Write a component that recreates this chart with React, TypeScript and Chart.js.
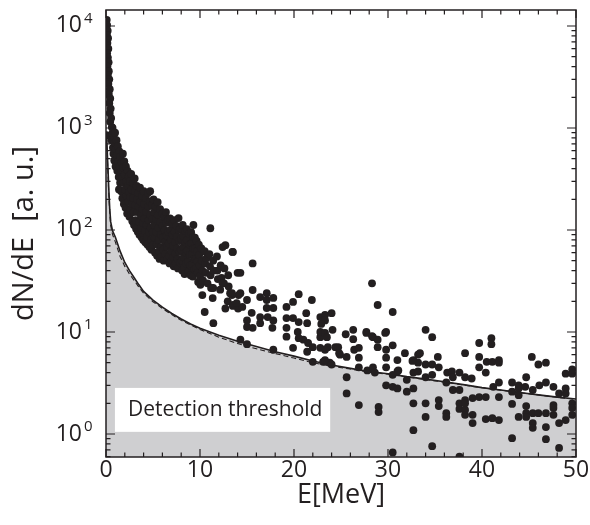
import React, { useEffect, useRef } from 'react';
import { Chart, registerables } from 'chart.js';

Chart.register(...registerables);

// ---------- data ----------
const xTickValues = [0, 10, 20, 30, 40, 50];
const yTickExponents = [0, 1, 2, 3, 4];
const xLabel = 'E[MeV]';
const yLabel = 'dN/dE  [a. u.]';
const legendText = 'Detection threshold';

// steep stack of points near E = 0
const stackPoints: [number, number][] = [
  [0.08, 11500], [0.12, 10200], [0.18, 9000], [0.1, 8200], [0.22, 7600], [0.15, 6800],
  [0.25, 6000], [0.12, 5400], [0.2, 4900], [0.28, 4400], [0.15, 4000], [0.3, 3600],
  [0.2, 3300], [0.35, 3000], [0.25, 2700], [0.4, 2400], [0.3, 2150], [0.45, 1950],
  [0.35, 1750], [0.5, 1550], [0.4, 1400], [0.55, 1250], [0.45, 1150], [0.05, 850],
];

// dense band, E 0.55 .. 14
const bandPoints: [number, number][] = [
  [0.62, 1020], [0.58, 760], [0.66, 880], [0.74, 640], [0.7, 1000], [0.83, 810], [0.79, 560],
  [0.92, 720], [0.88, 480], [0.97, 900], [1.05, 620], [1.02, 420], [1.12, 760], [1.15, 540],
  [1.2, 380], [1.26, 660], [1.31, 470], [1.35, 330], [1.42, 590], [1.46, 420], [1.5, 290], [1.38, 250],
  [1.55, 520], [1.58, 370], [1.62, 240], [1.67, 460], [1.72, 330], [1.74, 205], [1.8, 560],
  [1.83, 410], [1.86, 290], [1.9, 180], [1.95, 470], [2.0, 350], [2.03, 250], [2.08, 165],
  [2.12, 420], [2.16, 300], [2.2, 215], [2.25, 145], [2.3, 380], [2.34, 270], [2.38, 190],
  [2.42, 335], [2.47, 235], [2.5, 135], [2.55, 300], [2.6, 210], [2.62, 160], [2.68, 355],
  [2.72, 250], [2.76, 180], [2.8, 122], [2.86, 290], [2.9, 205], [2.94, 150], [2.98, 112],
  [3.05, 320], [3.08, 240], [3.12, 175], [3.16, 125], [3.2, 103], [3.26, 270], [3.3, 200],
  [3.34, 150], [3.38, 96], [3.44, 230], [3.48, 170], [3.52, 120], [3.56, 90], [3.62, 260],
  [3.66, 190], [3.7, 140], [3.74, 105], [3.78, 85], [3.84, 215], [3.88, 160], [3.92, 118],
  [3.96, 80], [4.02, 240], [4.06, 180], [4.1, 130], [4.14, 98], [4.18, 76], [4.24, 205],
  [4.28, 150], [4.32, 112], [4.36, 86], [4.4, 72], [4.46, 230], [4.5, 170], [4.54, 125],
  [4.58, 95], [4.62, 68], [4.7, 240], [4.66, 190], [4.72, 140], [4.76, 105], [4.8, 80],
  [4.84, 64], [4.9, 175], [4.94, 128], [4.98, 95], [5.02, 72],
  [5.06, 200], [5.1, 150], [5.14, 112], [5.18, 84], [5.22, 60], [5.28, 170], [5.32, 128],
  [5.36, 96], [5.4, 72], [5.44, 56], [5.5, 188], [5.54, 140], [5.58, 105], [5.62, 80],
  [5.66, 62], [5.7, 52], [5.76, 160], [5.8, 120], [5.84, 90], [5.88, 68], [5.92, 55],
  [5.98, 145], [6.02, 110], [6.06, 84], [6.1, 64], [6.14, 50], [6.2, 135], [6.24, 100],
  [6.28, 76], [6.32, 58], [6.38, 150], [6.42, 118], [6.46, 88], [6.5, 68], [6.54, 52],
  [6.6, 125], [6.64, 96], [6.68, 74], [6.72, 56], [6.76, 47], [6.82, 130], [6.86, 100],
  [6.9, 80], [6.94, 62], [6.98, 50],
  [7.04, 115], [7.08, 90], [7.12, 70], [7.16, 54], [7.2, 44], [7.26, 125], [7.3, 96],
  [7.34, 76], [7.38, 59], [7.42, 47], [7.5, 110], [7.54, 86], [7.58, 66], [7.62, 52],
  [7.66, 42], [7.72, 131], [7.76, 100], [7.8, 78], [7.84, 61], [7.88, 48], [7.94, 104],
  [7.98, 82], [8.02, 64], [8.06, 50], [8.1, 40], [8.16, 112], [8.2, 88], [8.24, 68],
  [8.28, 54], [8.32, 43], [8.36, 37], [8.42, 98], [8.46, 76], [8.5, 60], [8.54, 47],
  [8.6, 102], [8.64, 80], [8.68, 63], [8.72, 49], [8.76, 39], [8.84, 92], [8.88, 72],
  [8.92, 57], [8.96, 45], [9.0, 36],
  [9.06, 95], [9.1, 74], [9.14, 58], [9.18, 46], [9.22, 35], [9.28, 85], [9.32, 66],
  [9.36, 52], [9.4, 41], [9.3, 112], [9.46, 84], [9.5, 66], [9.54, 52], [9.58, 42],
  [9.64, 78], [9.68, 62], [9.72, 49], [9.76, 38], [9.8, 31], [9.88, 72], [9.92, 57],
  [9.96, 45], [10.0, 35], [10.04, 29], [10.15, 66], [10.2, 50], [10.26, 40], [10.32, 32],
  [10.25, 23], [10.5, 62], [10.55, 47], [10.62, 38], [10.7, 53], [10.5, 15.7], [10.8, 30],
  [11.0, 58], [11.1, 104], [11.06, 44], [11.12, 36], [11.18, 27], [11.4, 50], [11.45, 40],
  [11.4, 27], [11.35, 21.5], [11.42, 12.2], [11.8, 55], [11.85, 40], [11.9, 33], [12.2, 45],
  [12.3, 34], [12.15, 26], [12.6, 42], [12.7, 71], [12.55, 30], [13.0, 36], [13.05, 28],
  [12.95, 20], [13.45, 61], [13.4, 24], [13.5, 18], [14.0, 38], [14.1, 23], [14.05, 17],
];

// scattered points, E 12 .. 25
const midPoints: [number, number][] = [
  [12.7, 17], [13.4, 23], [14.3, 24], [13.5, 18.4], [14.5, 17.6], [15, 20.6], [15.5, 15.4],
  [15.6, 25.8], [16.4, 22], [17.1, 24], [17.1, 20.6], [17.8, 21.6], [17.1, 17.2], [17.8, 17.2],
  [16.4, 14], [16.4, 12.2], [17.2, 14], [17.8, 13], [15, 13], [15.6, 11], [15, 11.2], [17.7, 11],
  [14.3, 8.4], [15, 7.6], [17.8, 6.7], [12.4, 30], [13.2, 24], [13.9, 19.2], [12.4, 68], [13.5, 61],
  [15.6, 47], [14.3, 38], [19.2, 17.6], [19.2, 13.7], [19.2, 11], [19.2, 9], [19.9, 19.7], [20.5, 23.5],
  [21.9, 20.6], [19.9, 13.7], [19.9, 7], [20.4, 10], [21, 8.4], [21.5, 7.8], [21.4, 6.4], [22.8, 14],
  [23.3, 14.7], [22.8, 8.9], [22.8, 7], [23.6, 7.1], [23.1, 5.1], [23.8, 5], [24.4, 7.1], [21.4, 12.2],
  [22.8, 10], [20.5, 12.5], [20.5, 8.7], [21.3, 15.3], [22, 7.1], [22, 5.1], [23.3, 13], [23.3, 9.8],
  [23.3, 6.7], [23.3, 5.3], [24, 15.3], [24.1, 10.5], [24, 4.8], [24.7, 7.1], [24.9, 6], [22.9, 12],
  [23.5, 8.9], [24.8, 6.2],
];

// scattered points, E 25 .. 50
const tailPoints: [number, number][] = [
  [25.6, 5.7], [25.6, 3.6], [25.6, 2.5], [26.3, 10.5], [26.3, 8.5], [26.4, 6.7], [26.9, 5.6], [26.9, 4.5],
  [26.9, 1.92], [27.7, 10], [27.8, 4.2], [28.3, 30], [28.4, 8.9], [28.4, 4.5], [28.6, 4], [28.9, 18.4],
  [28.9, 8.4], [28.9, 7.1], [29, 1.84], [29, 1.64], [29.8, 10], [29.8, 6.7], [29.8, 5.6], [29.8, 4.5],
  [29.8, 3], [30.5, 15.7], [30.5, 7.4], [30.5, 3.8], [30.5, 2.9], [31, 5.3], [31, 4.1], [31, 2.8],
  [31.8, 6.2], [32, 3.4], [32, 2.6], [32.7, 5.3], [32.7, 4], [32.7, 2.8], [32.7, 2], [32.7, 1.09],
  [33.2, 6], [33.2, 5], [33.2, 4.1], [34, 10.5], [34, 4.8], [34, 3.6], [34, 2], [34, 1.47], [30.5, 0.66],
  [25.5, 9.5], [26.9, 7], [27.7, 9.8], [28.3, 9.1], [29.7, 9.8], [31.1, 4.2], [32.6, 5.2], [34.7, 8.9],
  [33.4, 6.2], [34.7, 4.8], [34.7, 3.8], [34.7, 0.76], [35.3, 5.7], [35.4, 4.5], [35.4, 2.15], [35.4, 1.88],
  [36.2, 3.2], [36.2, 1.6], [36.2, 1.47], [36.3, 4], [36.8, 4.1], [36.9, 3.6], [36.9, 2.7], [37.6, 4],
  [37.6, 2.7], [37.6, 2], [37.6, 1.76], [37.6, 0.6], [38.2, 6.2], [38.2, 3.6], [38.2, 2.15], [38.2, 2],
  [38.2, 1.72], [38.2, 1.54], [38.9, 3.5], [39, 2.25], [39, 1.54], [39, 1.28], [39.7, 7.8], [39.7, 5.7],
  [39.7, 4.5], [39.7, 2.3], [40.4, 4], [40.4, 2.3], [40.4, 1.4], [40.5, 5.1], [41, 8.7], [41, 7.6],
  [41.1, 5.1], [41.2, 2.9], [41.8, 5.3], [41.8, 5], [41.8, 3.2], [41.8, 2.3], [41.8, 1.37], [41.1, 1.43],
  [43.2, 3.2], [43.2, 2.6], [43.2, 1.97], [43.2, 0.91], [43.9, 3], [43.9, 2.8], [43.9, 2.4], [43.9, 1.47],
  [44.6, 2.9], [44.7, 3.6], [44.7, 1.88], [44.7, 1.6], [44.7, 1.47], [45.3, 5.7], [45.4, 2.7], [45.4, 1.6],
  [45.4, 1.28], [45.4, 1.15], [46, 4.8], [46.1, 3], [46, 1.6], [46.8, 5], [46.8, 3.2], [46.8, 1.6],
  [46.8, 1.17], [46.8, 0.89], [47.6, 2.9], [47.6, 1.92], [47.6, 1.54], [47.6, 1.8], [48.2, 2.5], [48.2, 1.28],
  [48.2, 0.73], [48.9, 3.9], [48.9, 2.8], [48.9, 2.5], [48.9, 1.37], [49.6, 4.3], [49.6, 3.9], [49.6, 2],
  [49.6, 1.8], [49.6, 1.54],
];

// detection threshold (solid) and its second estimate (dashed)
const thresholdE = [0, 0.1, 0.2, 0.3, 0.4, 0.5, 0.7, 1.0, 1.5, 2.0, 2.5, 3.0, 3.5, 4.0, 5.0, 6.0, 7.0, 8.0, 9.0, 10, 12, 14, 16, 18, 20, 22, 24, 26, 28, 30, 32, 34, 36, 38, 40, 42, 44, 46, 48, 50];
const thresholdSolid = [850, 700, 420, 250, 160, 120, 98, 85, 62, 48, 40, 34, 29, 25, 20.5, 17.5, 15.2, 13.4, 12, 10.9, 9.3, 8.1, 7.2, 6.4, 5.8, 5.2, 4.75, 4.4, 4.1, 3.9, 3.65, 3.45, 3.25, 3.05, 2.85, 2.7, 2.55, 2.42, 2.3, 2.2];
const thresholdDashed = [820, 650, 380, 220, 145, 110, 90, 76, 55, 44, 37, 32, 27.5, 24, 19.8, 17, 14.8, 13, 11.7, 10.6, 8.9, 7.7, 6.85, 6.15, 5.55, 5.0, 4.62, 4.33, 4.05, 3.85, 3.62, 3.42, 3.22, 3.03, 2.84, 2.69, 2.54, 2.41, 2.29, 2.19];

// ---------- styling ----------
const INK = '#231f20';
const FILL = '#cfcfd1';
const FONT = '"Open Sans", "DejaVu Sans", sans-serif';

const toXY = (pts: [number, number][]) => pts.map(([x, y]) => ({ x, y }));

const decorPlugin = {
  id: 'decor',
  afterDatasetsDraw(chart: any) {
    const { ctx } = chart;
    const x = chart.scales.x;
    const y = chart.scales.y;
    // legend box
    const bx = x.getPixelForValue(0.95);
    const by = y.getPixelForValue(2.83);
    const bx2 = x.getPixelForValue(23.85);
    const by2 = y.getPixelForValue(1.05);
    ctx.save();
    ctx.fillStyle = '#ffffff';
    ctx.fillRect(bx, by, bx2 - bx, by2 - by);
    ctx.fillStyle = INK;
    ctx.font = `21px ${FONT}`;
    ctx.textAlign = 'left';
    ctx.textBaseline = 'middle';
    ctx.fillText(legendText, bx + 13, (by + by2) / 2);
    ctx.restore();
  },
  afterDraw(chart: any) {
    const { ctx, chartArea } = chart;
    const { left, right, top, bottom } = chartArea;
    const x = chart.scales.x;
    const y = chart.scales.y;
    ctx.save();
    ctx.strokeStyle = INK;
    ctx.lineWidth = 1.5;
    ctx.strokeRect(left, top, right - left, bottom - top);
    ctx.lineWidth = 1.2;
    ctx.beginPath();
    // x ticks (major every 10, minor every 2)
    for (let v = 0; v <= 50; v += 2) {
      const px = x.getPixelForValue(v);
      const len = v % 10 === 0 ? 8 : 4.5;
      ctx.moveTo(px, bottom); ctx.lineTo(px, bottom - len);
      ctx.moveTo(px, top); ctx.lineTo(px, top + len);
    }
    // y ticks (log)
    for (let e = -1; e <= 4; e++) {
      for (let m = 1; m <= 9; m++) {
        const v = m * Math.pow(10, e);
        if (v < y.min || v > y.max) continue;
        const py = y.getPixelForValue(v);
        const len = m === 1 ? 9 : 4.5;
        ctx.moveTo(left, py); ctx.lineTo(left + len, py);
        ctx.moveTo(right, py); ctx.lineTo(right - len, py);
      }
    }
    ctx.stroke();
    // y tick labels 10^n
    ctx.fillStyle = INK;
    yTickExponents.forEach((e) => {
      const py = y.getPixelForValue(Math.pow(10, e));
      ctx.font = `23px ${FONT}`;
      ctx.textAlign = 'right';
      ctx.textBaseline = 'alphabetic';
      ctx.fillText('10', 82, py + 6.5);
      ctx.font = `15px ${FONT}`;
      ctx.textAlign = 'left';
      ctx.fillText(String(e), 84, py - 3);
    });
    ctx.restore();
  },
};

export default function App() {
  const canvasRef = useRef<HTMLCanvasElement | null>(null);

  useEffect(() => {
    document.body.style.margin = '0';
    const canvas = canvasRef.current;
    if (!canvas) return;
    const chart = new Chart(canvas, {
      type: 'scatter',
      data: {
        datasets: [
          {
            type: 'scatter',
            label: 'data',
            data: [...toXY(stackPoints), ...toXY(bandPoints), ...toXY(midPoints), ...toXY(tailPoints)],
            backgroundColor: INK,
            borderWidth: 0,
            pointRadius: 3.9,
            order: 0,
          } as any,
          {
            type: 'line',
            label: 'threshold (dashed)',
            data: thresholdE.map((e, i) => ({ x: e, y: thresholdDashed[i] })),
            borderColor: INK,
            borderWidth: 1.1,
            borderDash: [5, 3],
            pointRadius: 0,
            fill: false,
            order: 1,
          } as any,
          {
            type: 'line',
            label: legendText,
            data: thresholdE.map((e, i) => ({ x: e, y: thresholdSolid[i] })),
            borderColor: INK,
            borderWidth: 1.6,
            backgroundColor: FILL,
            pointRadius: 0,
            fill: 'start',
            order: 2,
          } as any,
        ],
      },
      options: {
        responsive: false,
        animation: false,
        layout: { padding: { left: 0, right: 14, top: 10, bottom: 0 } },
        plugins: { legend: { display: false }, tooltip: { enabled: false } },
        scales: {
          x: {
            type: 'linear',
            min: 0,
            max: 50,
            afterBuildTicks: (scale: any) => {
              scale.ticks = xTickValues.map((v) => ({ value: v }));
            },
            afterFit: (scale: any) => { scale.height = 68; },
            grid: { display: false, drawTicks: false },
            border: { display: false },
            ticks: { color: INK, padding: 0, font: { family: FONT, size: 23 }, maxRotation: 0 },
            title: { display: true, text: xLabel, color: INK, font: { family: FONT, size: 27 }, padding: { top: 13, bottom: 13 } },
          },
          y: {
            type: 'logarithmic',
            min: 0.595,
            max: 14350,
            afterFit: (scale: any) => { scale.width = 106; },
            grid: { display: false, drawTicks: false },
            border: { display: false },
            ticks: { display: false },
            title: { display: true, text: yLabel, color: INK, font: { family: FONT, size: 29 }, padding: { top: 7, bottom: 7 } },
          },
        },
      } as any,
      plugins: [decorPlugin],
    });
    return () => chart.destroy();
  }, []);

  return (
    <div style={{ width: 590, height: 525 }}>
      <canvas ref={canvasRef} width={590} height={525} style={{ display: 'block' }} />
    </div>
  );
}
